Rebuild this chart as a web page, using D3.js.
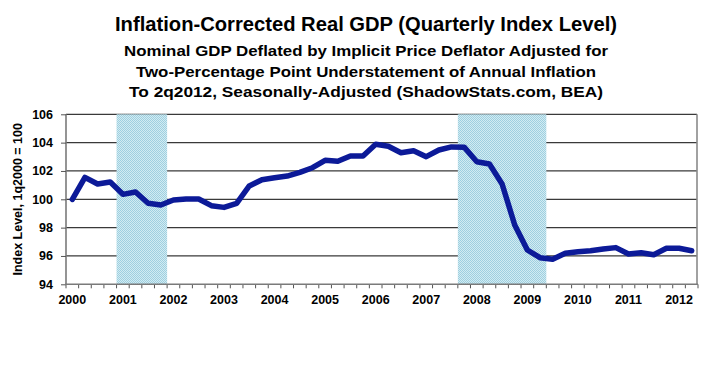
<!DOCTYPE html>
<html>
<head>
<meta charset="utf-8">
<script src="https://cdn.jsdelivr.net/npm/d3@7"></script>
<style>
  html, body { margin: 0; padding: 0; background: #fff; }
  svg { display: block; }
  text { font-family: "Liberation Sans", Arial, sans-serif; font-weight: bold; fill: #000; }
</style>
</head>
<body>
<svg id="chart" width="721" height="367"></svg>
<script>
// ---- data ----
const years = [2000, 2001, 2002, 2003, 2004, 2005, 2006, 2007, 2008, 2009, 2010, 2011, 2012];
const quarters = [];
years.forEach(yr => [1, 2, 3, 4].forEach(q => { if (!(yr === 2012 && q > 2)) quarters.push(yr + "Q" + q); }));
const indexValues = [
  100.00, 101.55, 101.08, 101.22,
  100.35, 100.52, 99.72, 99.60,
  99.95, 100.02, 100.02, 99.55,
  99.43, 99.72, 100.94, 101.38,
  101.52, 101.64, 101.90, 102.23,
  102.75, 102.68, 103.06, 103.06,
  103.88, 103.74, 103.29, 103.43,
  103.01, 103.48, 103.70, 103.68,
  102.65, 102.49, 101.08, 98.19,
  96.42, 95.88, 95.77, 96.19,
  96.30, 96.37, 96.49, 96.59,
  96.14, 96.23, 96.09, 96.54,
  96.54, 96.37
];
const recessions = [["2001Q1", "2001Q4"], ["2007Q4", "2009Q2"]];
const yTicks = [94, 96, 98, 100, 102, 104, 106];
const titleLines = [
  "Inflation-Corrected Real GDP (Quarterly Index Level)",
  "Nominal GDP Deflated by Implicit Price Deflator Adjusted for",
  "Two-Percentage Point Understatement of Annual Inflation",
  "To 2q2012, Seasonally-Adjusted (ShadowStats.com, BEA)"
];
const yAxisTitle = "Index Level, 1q2000 = 100";

// ---- layout ----
const svg = d3.select("#chart");
const pLeft = 66, pRight = 698, pTop = 114.3, pBottom = 284.3;
const x = d3.scaleBand().domain(quarters).range([pLeft, pRight]).padding(0);
const y = d3.scaleLinear().domain([94, 106]).range([pBottom, pTop]);

// dithered shading pattern
const defs = svg.append("defs");
const pat = defs.append("pattern").attr("id", "dither").attr("width", 2).attr("height", 2)
  .attr("patternUnits", "userSpaceOnUse");
pat.append("rect").attr("width", 2).attr("height", 2).attr("fill", "#d2ecf2");
pat.append("rect").attr("width", 1).attr("height", 1).attr("fill", "#9fcfe0");
pat.append("rect").attr("x", 1).attr("y", 1).attr("width", 1).attr("height", 1).attr("fill", "#9fcfe0");

// titles
const titleSpec = [
  {size: 21, yy: 31, w: 502},
  {size: 15.5, yy: 56, w: 484},
  {size: 15.5, yy: 77, w: 460},
  {size: 15.5, yy: 97, w: 474}
];
titleLines.forEach((t, i) => {
  svg.append("text")
    .attr("x", 366).attr("y", titleSpec[i].yy)
    .attr("text-anchor", "middle")
    .attr("font-size", titleSpec[i].size)
    .attr("textLength", titleSpec[i].w)
    .attr("lengthAdjust", "spacingAndGlyphs")
    .text(t);
});

// gridlines
svg.append("g").selectAll("line").data(yTicks.filter(v => v > 94)).join("line")
  .attr("x1", pLeft).attr("x2", pRight - 1)
  .attr("y1", d => y(d)).attr("y2", d => y(d))
  .attr("stroke", "#3a3a3a").attr("stroke-width", 1.2);

// recession shading
svg.append("g").selectAll("rect").data(recessions).join("rect")
  .attr("x", d => x(d[0]))
  .attr("width", d => x(d[1]) + x.bandwidth() - x(d[0]))
  .attr("y", pTop).attr("height", pBottom - pTop)
  .attr("fill", "url(#dither)");

// axes frame
svg.append("line").attr("x1", pLeft).attr("x2", pLeft).attr("y1", pTop).attr("y2", pBottom)
  .attr("stroke", "#7a7a7a").attr("stroke-width", 1.6);
svg.append("line").attr("x1", pRight - 1).attr("x2", pRight - 1).attr("y1", pTop).attr("y2", pBottom)
  .attr("stroke", "#8a8a8a").attr("stroke-width", 1.6);

// y axis
const yAxis = d3.axisLeft(y).tickValues(yTicks).tickSize(5).tickPadding(8).tickFormat(d3.format("d"));
const gy = svg.append("g").attr("transform", `translate(${pLeft},0)`).call(yAxis);
gy.select(".domain").remove();
gy.selectAll(".tick line").attr("stroke", "#555");
gy.selectAll(".tick text").attr("font-size", 12.5).attr("font-family", "Liberation Sans, Arial, sans-serif").attr("font-weight", "bold").attr("fill", "#000");

// x axis (year labels at Q1)
const xAxis = d3.axisBottom(x).tickValues(quarters.filter(q => q.endsWith("Q1")))
  .tickSize(0).tickPadding(11).tickFormat(q => q.slice(0, 4));
const gx = svg.append("g").attr("transform", `translate(0,${pBottom})`).call(xAxis);
gx.select(".domain").remove();
gx.selectAll(".tick text").attr("font-size", 12.5).attr("font-family", "Liberation Sans, Arial, sans-serif").attr("font-weight", "bold").attr("fill", "#000");

// quarter ticks at band boundaries
const edges = quarters.map(q => x(q)).concat([x(quarters[quarters.length - 1]) + x.bandwidth()]);
svg.append("g").selectAll("line").data(edges).join("line")
  .attr("x1", d => d).attr("x2", d => d).attr("y1", pBottom).attr("y2", pBottom + 4)
  .attr("stroke", "#555").attr("stroke-width", 1);
svg.append("line").attr("x1", pLeft - 1).attr("x2", pRight).attr("y1", pBottom).attr("y2", pBottom)
  .attr("stroke", "#7a7a7a").attr("stroke-width", 1.6);

// y axis title
svg.append("text")
  .attr("transform", `translate(22,${(pTop + pBottom) / 2}) rotate(-90)`)
  .attr("text-anchor", "middle")
  .attr("font-size", 12.5)
  .text(yAxisTitle);

// data line
const line = d3.line().x((d, i) => x(quarters[i]) + x.bandwidth() / 2).y(d => y(d));
svg.append("path").datum(indexValues)
  .attr("d", line)
  .attr("fill", "none")
  .attr("stroke", "#0c1a98")
  .attr("stroke-width", 5.5)
  .attr("stroke-linejoin", "round")
  .attr("stroke-linecap", "round");
</script>
</body>
</html>
